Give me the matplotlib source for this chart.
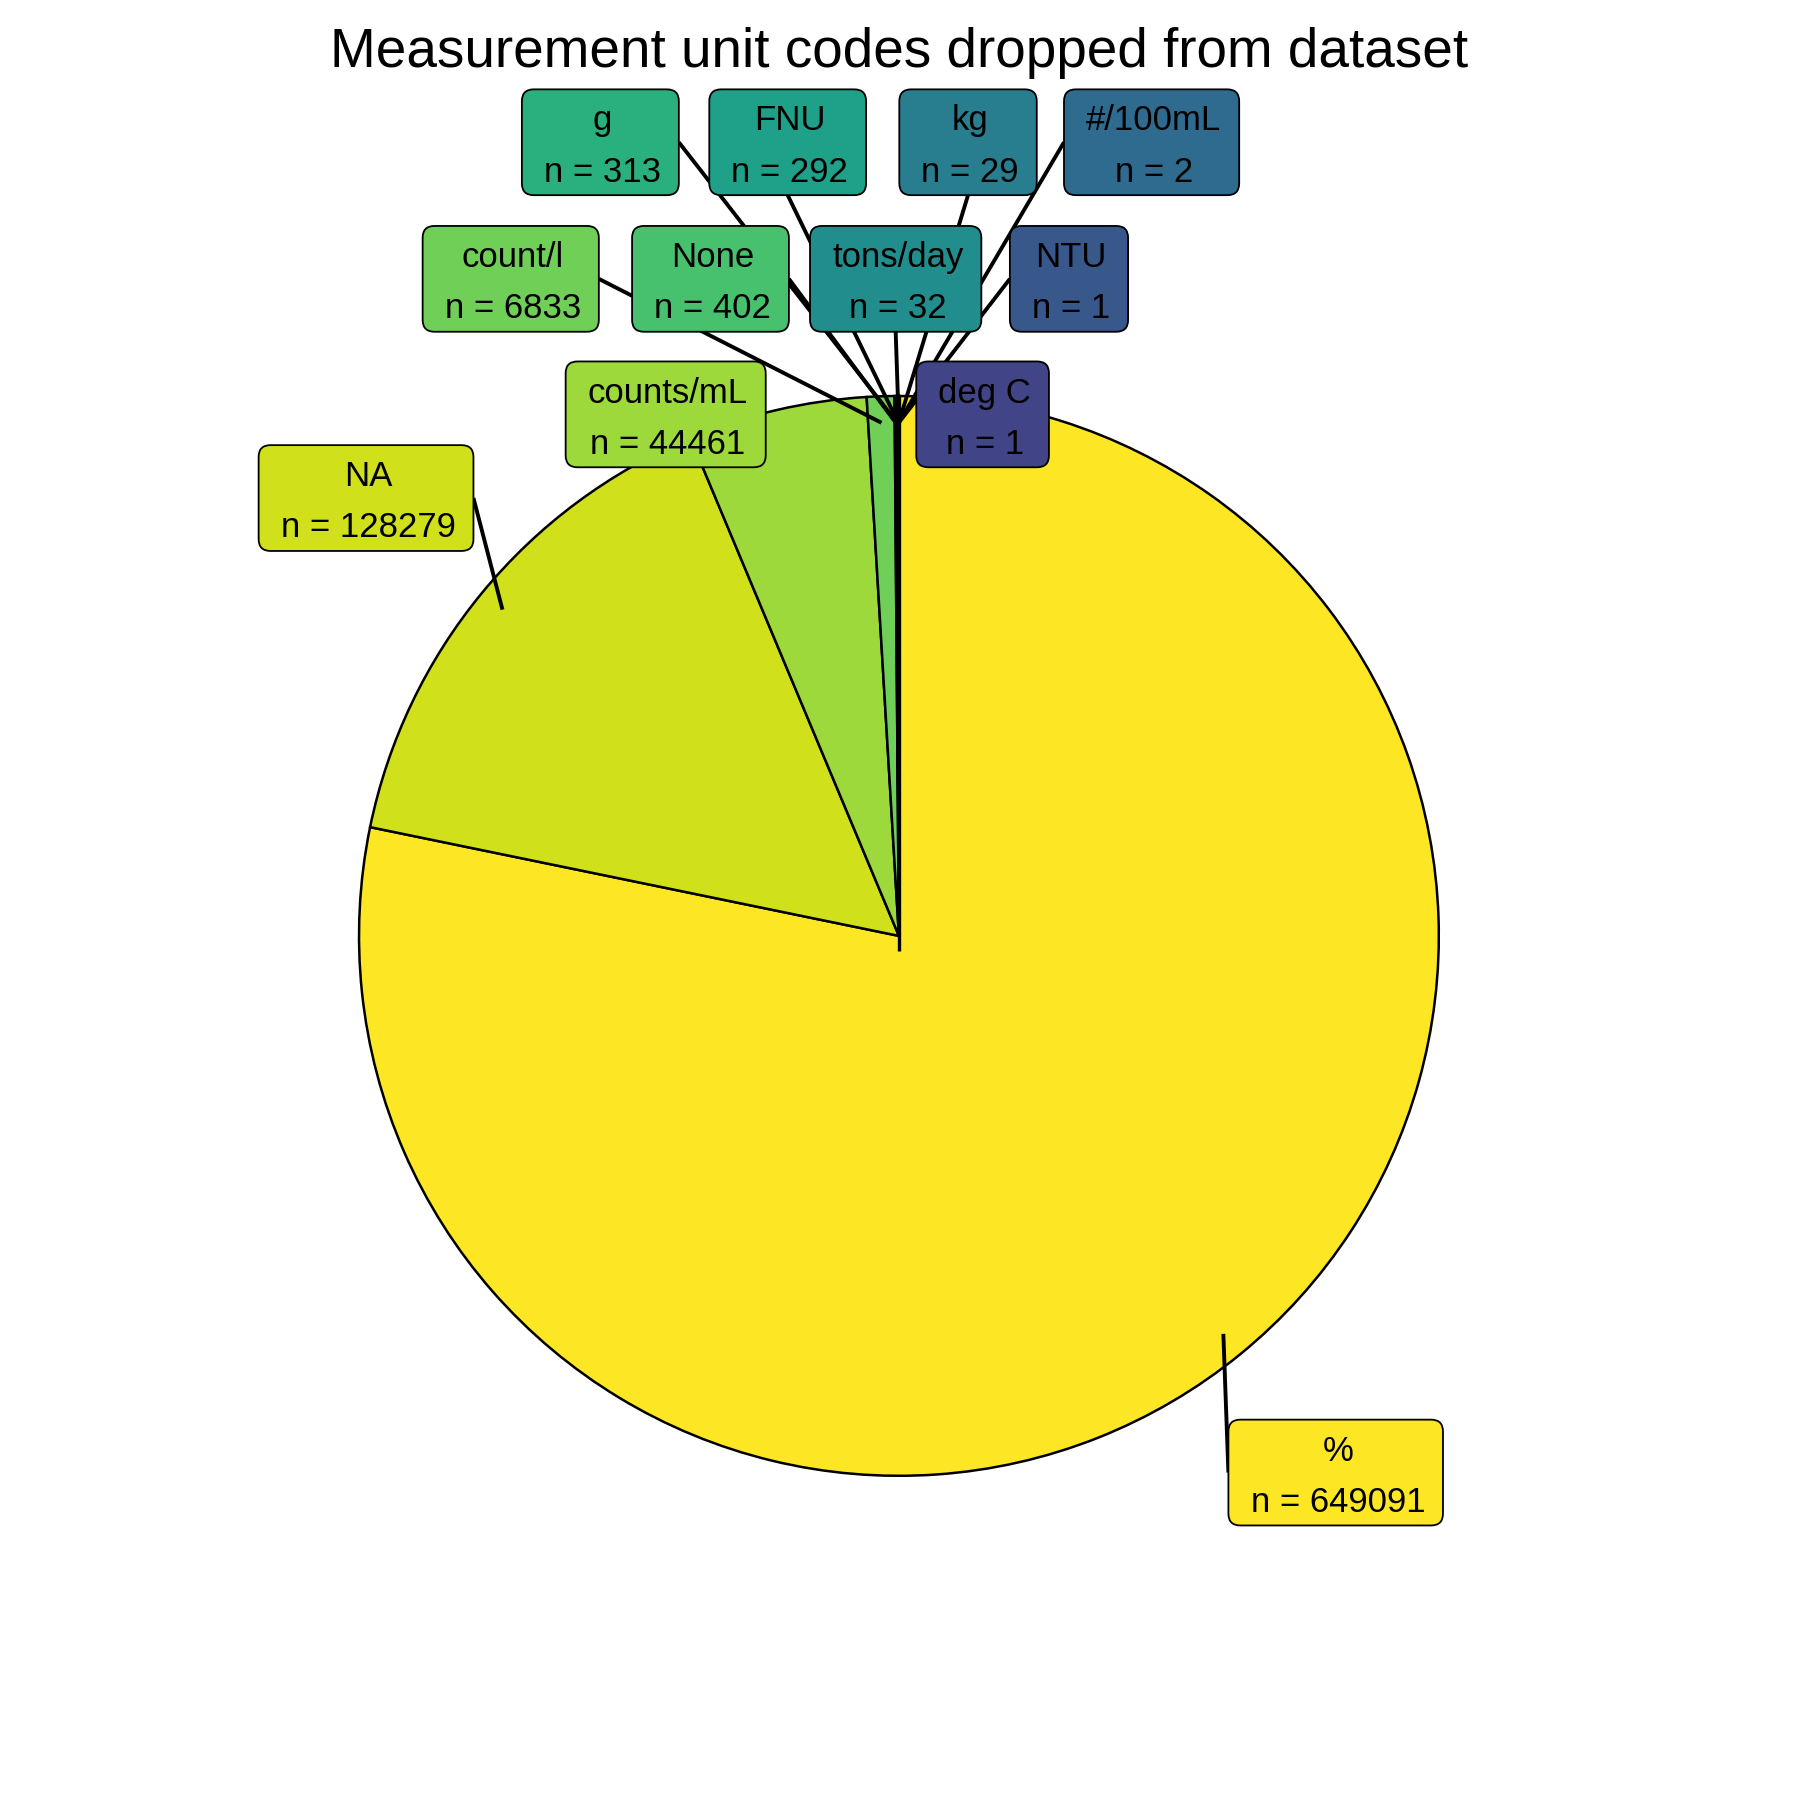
import numpy as np
import matplotlib
matplotlib.use("Agg")
import matplotlib.pyplot as plt
from matplotlib.patches import FancyBboxPatch

# unit codes, ordered as in the pie (clockwise from 12 o'clock)
units = ["%", "NA", "counts/mL", "count/l", "None", "g", "FNU",
         "tons/day", "kg", "#/100mL", "NTU", "deg C"]
counts = [649091, 128279, 44461, 6833, 402, 313, 292, 32, 29, 2, 1, 1]

# where the repelled label boxes ended up (data units, pie radius = 1)
label_x = [0.809, -0.987, -0.432, -0.719, -0.349, -0.553, -0.206,
           -0.006, 0.128, 0.468, 0.315, 0.155]
label_y = [-0.994, 0.811, 0.966, 1.217, 1.217, 1.470, 1.470,
           1.217, 1.470, 1.470, 1.217, 0.966]

plt.rcParams["font.family"] = ["Liberation Sans", "DejaVu Sans"]

counts_arr = np.array(counts, dtype=float)
total = counts_arr.sum()
colors = plt.cm.viridis(np.linspace(1.0, 0.2, len(units)))

fig = plt.figure(figsize=(18, 18), dpi=100)
ax = fig.add_axes([0, 0, 1, 1])

ax.pie(counts_arr, colors=colors, startangle=90, counterclock=False,
       radius=1, center=(0, 0),
       wedgeprops=dict(edgecolor="black", linewidth=1.8))
ax.plot([0, 0], [-0.028, 1.0], color="black", lw=2.4, zorder=3,
        solid_capstyle="butt")

ax.set_xlim(-1.665, 1.669)
ax.set_ylim(-1.600, 1.733)
ax.set_aspect("equal")
ax.set_axis_off()

# label anchors sit just inside the rim at each slice's mid angle
cum = np.cumsum(counts_arr)
theta = 2 * np.pi * (cum - counts_arr / 2) / total
r_anchor = 0.951
anc_x = r_anchor * np.sin(theta)
anc_y = r_anchor * np.cos(theta)

text_dy = -0.008
texts = []
for i, unit in enumerate(units):
    t = ax.text(label_x[i] + 0.004, label_y[i] + text_dy, f"{unit}\nn = {counts[i]}",
                ha="center", va="center", multialignment="center",
                fontsize=25, linespacing=1.7, zorder=6)
    texts.append(t)

fig.canvas.draw()
renderer = fig.canvas.get_renderer()
inv = ax.transData.inverted()

pad_x = 0.037
box_h = 0.196
min_seg = 0.06
for i, t in enumerate(texts):
    bb = t.get_window_extent(renderer)
    (x0, _), (x1, _) = inv.transform([[bb.x0, bb.y0], [bb.x1, bb.y1]])
    hw = (x1 - x0) / 2 + pad_x
    hh = box_h / 2
    cx, cy = label_x[i], label_y[i]
    box = FancyBboxPatch((cx - hw, cy - hh), 2 * hw, 2 * hh,
                         boxstyle="round,pad=0,rounding_size=0.022",
                         fc=colors[i], ec="black", lw=1.3, zorder=5)
    ax.add_patch(box)

    # segment runs to the nearest edge midpoint of the box
    mids = np.array([[cx - hw, cy], [cx + hw, cy], [cx, cy - hh], [cx, cy + hh]])
    d = np.hypot(mids[:, 0] - anc_x[i], mids[:, 1] - anc_y[i])
    k = np.argmin(d)
    if d[k] < min_seg:
        continue
    ax.plot([anc_x[i], mids[k, 0]], [anc_y[i], mids[k, 1]], color="black",
            lw=2.8, zorder=4, solid_capstyle="butt")

fig.text(899 / 1800, 1 - 67 / 1800, "Measurement unit codes dropped from dataset",
         ha="center", va="baseline", fontsize=39.5)

fig.savefig("out.png", dpi=100, facecolor="white")
